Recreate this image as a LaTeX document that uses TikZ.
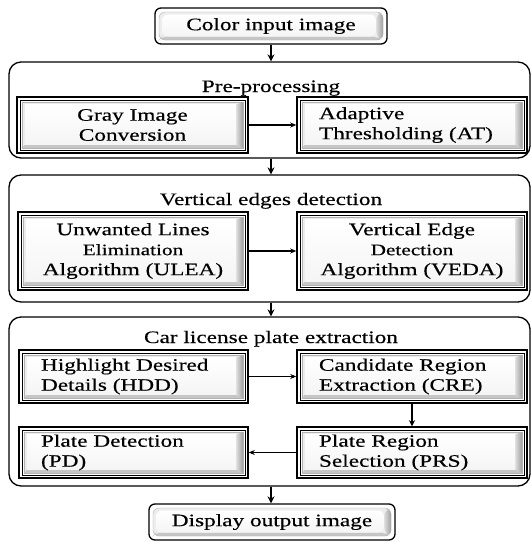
\documentclass[tikz,border=0pt]{standalone}
\usepackage{fontspec}
\setmainfont{Liberation Serif}[FakeStretch=1.33, FakeBold=0.35]
\usetikzlibrary{calc,arrows.meta}

% thin second frame line just inside the heavy outer frame
\newcommand\frameline{%
  \draw[line width=0.7pt]
    ([shift={(3pt,3pt)}]path picture bounding box.south west) rectangle
    ([shift={(-3pt,-3pt)}]path picture bounding box.north east);}

% raised "button" face: light top/left bands, darker right/bottom bands
\newcommand\bevelfill[1]{%
  \coordinate (bvA) at ([shift={(#1,#1)}]path picture bounding box.south west);
  \coordinate (bvB) at ([shift={(-#1,-#1)}]path picture bounding box.north east);
  \coordinate (bfA) at ([shift={(3pt,3.5pt)}]bvA);
  \coordinate (bfB) at ([shift={(-7pt,-2.5pt)}]bvB);
  \fill[gray!14] (bvA) rectangle (bvB);
  \fill[gray!45] (bvA) -- (bvA -| bvB) -- (bfA -| bfB) -- (bfA) -- cycle;
  \shade[left color=gray!25, right color=gray!75]
    (bvA -| bvB) -- (bvB) -- (bfB) -- (bfA -| bfB) -- cycle;
  \shade[top color=white, bottom color=gray!8] (bfA) rectangle (bfB);
  \draw[gray!60, line width=0.4pt] (bvA) rectangle (bvB);}

\begin{document}
\begin{tikzpicture}[x=1pt, y=-1pt,
  every node/.style={font=\fontsize{17.5}{20}\selectfont},
  procbox/.style={draw, line width=1.5pt, rectangle, inner sep=0pt,
    inner xsep=22pt, path picture={\frameline\bevelfill{5pt}}},
  iobox/.style={draw, line width=1.3pt, rounded corners=6pt, inner sep=0pt,
    path picture={\bevelfill{4pt}}},
  group/.style={draw, line width=1.3pt, rounded corners=12pt, inner sep=0pt},
  grouptitle/.style={anchor=base, inner sep=0pt},
  downflow/.style={-{Stealth[length=7pt,width=7pt]}, line width=1.6pt},
  sideflow/.style={-{Stealth[length=6pt,width=5pt]}, line width=1.3pt},
  thinflow/.style={-{Stealth[length=6pt,width=5pt]}, line width=1pt},
  thickflow/.style={-{Stealth[length=6pt,width=6pt]}, line width=2pt}]

\fill[white] (0,0) rectangle (531,542);
\useasboundingbox (0,0) rectangle (531,542);

% input / output terminals
\node[iobox, minimum width=232pt, minimum height=36pt] (top) at (271,26)
  {Color input image};
\node[iobox, minimum width=246pt, minimum height=36pt] (disp) at (272,522)
  {Display output image};

% stage groups
\node[group, minimum width=521pt, minimum height=96pt] (g1) at (269.5,110) {};
\node[group, minimum width=521pt, minimum height=127pt] (g2) at (269.5,238.5) {};
\node[group, minimum width=521pt, minimum height=169pt] (g3) at (269.5,401.5) {};

\node[grouptitle] (t1) at (271,92) {Pre-processing};
\node[grouptitle] (t2) at (271,205) {Vertical edges detection};
\node[grouptitle] (t3) at (271,343) {Car license plate extraction};

% pre-processing
\node[procbox, minimum width=231pt, minimum height=56pt, text width=187pt,
  align=center] (gray) at (132.5,125) {Gray Image\\Conversion};
\node[procbox, minimum width=230pt, minimum height=56pt, text width=186pt,
  align=left] (at) at (412,125) {Adaptive\\Thresholding (AT)};

% vertical edges
\node[procbox, minimum width=230pt, minimum height=78pt, text width=186pt,
  align=center] (ulea) at (133,251)
  {Unwanted Lines\\{\fontsize{16}{20}\selectfont Elimination}\\Algorithm (ULEA)};
\node[procbox, minimum width=230pt, minimum height=78pt, text width=186pt,
  align=center] (veda) at (412,251)
  {Vertical Edge\\{\fontsize{16}{20}\selectfont Detection}\\Algorithm (VEDA)};

% plate extraction
\node[procbox, minimum width=229pt, minimum height=53pt, text width=185pt,
  align=left] (hdd) at (133.5,376.5) {Highlight Desired\\Details (HDD)};
\node[procbox, minimum width=230pt, minimum height=53pt, text width=186pt,
  align=left] (cre) at (412,376.5) {Candidate Region\\Extraction (CRE)};
\node[procbox, minimum width=229pt, minimum height=51pt, text width=185pt,
  align=left] (pd) at (133.5,452.5) {Plate Detection\\(PD)};
\node[procbox, minimum width=230pt, minimum height=51pt, text width=186pt,
  align=left] (prs) at (412,452.5) {Plate Region\\Selection (PRS)};

% flow between stages
\draw[downflow] (top.south) -- (top.south |- g1.north);
\draw[downflow] (g1.south -| top.south) -- (g2.north -| top.south);
\draw[downflow] (g2.south -| top.south) -- (g3.north -| top.south);
\draw[downflow] (g3.south -| top.south) -- (top.south |- disp.north);

% flow inside stages
\draw[sideflow] (gray.east) -- (at.west);
\draw[sideflow] (ulea.east) -- (veda.west);
\draw[thinflow] (hdd.east) -- (cre.west);
\draw[thickflow] (cre.south) -- (prs.north);
\draw[sideflow] (prs.west) -- (pd.east);
\end{tikzpicture}
\end{document}
